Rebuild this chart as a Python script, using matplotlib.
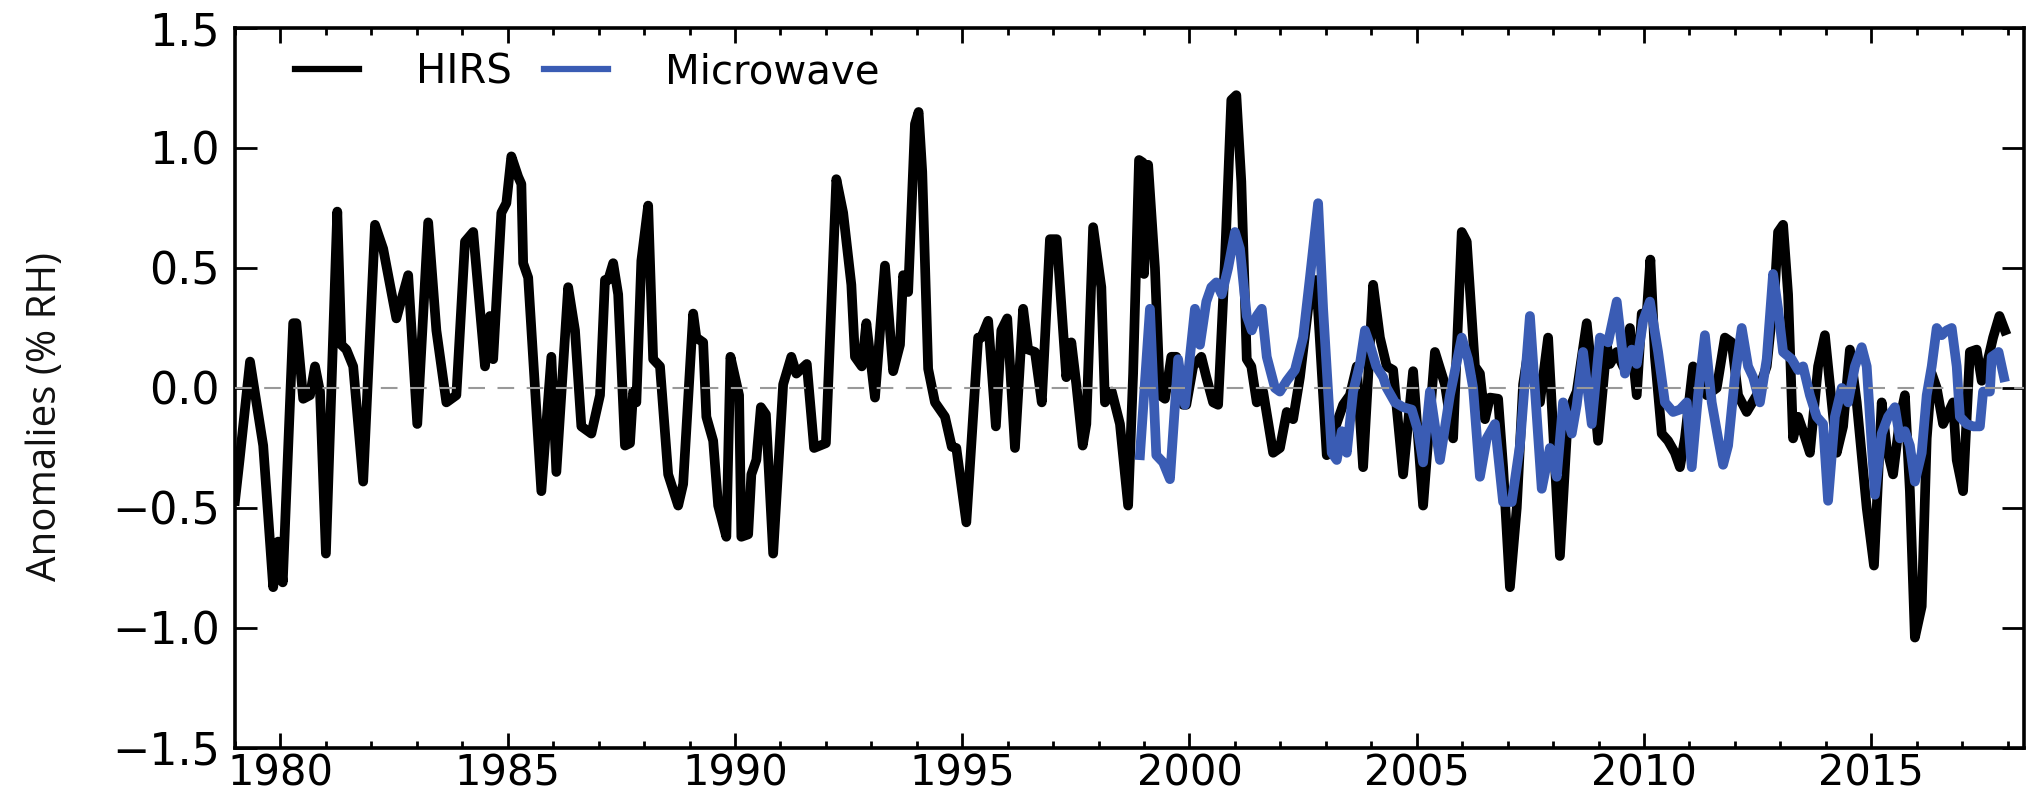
import matplotlib
matplotlib.use("Agg")
import matplotlib.pyplot as plt
from matplotlib.ticker import MultipleLocator

# HIRS anomalies (% RH), turning points
hirs_year = [1979.00, 1979.10, 1979.33, 1979.62, 1979.84, 1979.95, 1980.05, 1980.28, 1980.35, 1980.50,
             1980.65, 1980.76, 1980.87, 1981.00, 1981.25, 1981.34, 1981.45, 1981.60, 1981.82, 1982.08,
             1982.26, 1982.55, 1982.81, 1983.01, 1983.25, 1983.43, 1983.65, 1983.87, 1984.06, 1984.24,
             1984.50, 1984.61, 1984.68, 1984.86, 1984.97, 1985.08, 1985.23, 1985.30, 1985.34, 1985.45,
             1985.74, 1985.96, 1986.07, 1986.33, 1986.48, 1986.62, 1986.84, 1987.03, 1987.14, 1987.21,
             1987.32, 1987.43, 1987.58, 1987.69, 1987.76, 1987.83, 1987.94, 1988.09, 1988.20, 1988.35,
             1988.53, 1988.75, 1988.86, 1989.08, 1989.15, 1989.30, 1989.37, 1989.52, 1989.63, 1989.81,
             1989.90, 1990.09, 1990.14, 1990.29, 1990.36, 1990.47, 1990.57, 1990.68, 1990.84, 1991.06,
             1991.24, 1991.35, 1991.58, 1991.74, 1992.00, 1992.23, 1992.38, 1992.56, 1992.64, 1992.79,
             1992.89, 1993.08, 1993.30, 1993.48, 1993.63, 1993.70, 1993.81, 1993.96, 1994.04, 1994.12,
             1994.25, 1994.40, 1994.62, 1994.77, 1994.87, 1995.09, 1995.35, 1995.42, 1995.57, 1995.74,
             1995.86, 1995.99, 1996.16, 1996.34, 1996.45, 1996.60, 1996.75, 1996.93, 1997.08, 1997.29,
             1997.40, 1997.51, 1997.65, 1997.73, 1997.88, 1998.06, 1998.14, 1998.29, 1998.47, 1998.65,
             1998.76, 1998.89, 1998.97, 1999.00, 1999.09, 1999.24, 1999.35, 1999.46, 1999.60, 1999.71,
             1999.86, 1999.93, 2000.08, 2000.26, 2000.37, 2000.52, 2000.63, 2000.78, 2000.92, 2001.03,
             2001.14, 2001.26, 2001.36, 2001.48, 2001.62, 2001.84, 2001.99, 2002.14, 2002.28, 2002.43,
             2002.61, 2002.79, 2003.02, 2003.16, 2003.38, 2003.53, 2003.68, 2003.82, 2003.93, 2004.04,
             2004.19, 2004.34, 2004.48, 2004.70, 2004.92, 2005.14, 2005.40, 2005.62, 2005.80, 2005.99,
             2006.10, 2006.28, 2006.39, 2006.50, 2006.61, 2006.79, 2006.90, 2007.05, 2007.20, 2007.34,
             2007.45, 2007.71, 2007.89, 2008.15, 2008.33, 2008.52, 2008.74, 2008.88, 2008.99, 2009.18,
             2009.25, 2009.40, 2009.54, 2009.69, 2009.84, 2009.95, 2010.06, 2010.14, 2010.24, 2010.39,
             2010.53, 2010.68, 2010.79, 2010.90, 2011.08, 2011.23, 2011.38, 2011.60, 2011.78, 2011.93,
             2012.07, 2012.26, 2012.48, 2012.70, 2012.88, 2012.95, 2013.06, 2013.17, 2013.28, 2013.39,
             2013.50, 2013.65, 2013.83, 2013.98, 2014.13, 2014.24, 2014.38, 2014.53, 2014.68, 2014.90,
             2015.06, 2015.23, 2015.34, 2015.48, 2015.63, 2015.74, 2015.85, 2015.96, 2016.11, 2016.22,
             2016.33, 2016.44, 2016.58, 2016.80, 2016.88, 2017.02, 2017.17, 2017.32, 2017.43, 2017.57,
             2017.68, 2017.82, 2017.94]
hirs_val = [-0.47, -0.30, 0.11, -0.24, -0.83, -0.64, -0.81, 0.27, 0.27, -0.045,
            -0.03, 0.09, -0.015, -0.69, 0.735, 0.18, 0.16, 0.09, -0.39, 0.68,
            0.58, 0.29, 0.47, -0.15, 0.69, 0.24, -0.06, -0.03, 0.61, 0.65,
            0.09, 0.30, 0.12, 0.73, 0.77, 0.965, 0.88, 0.85, 0.52, 0.46,
            -0.43, 0.13, -0.35, 0.42, 0.24, -0.16, -0.19, -0.03, 0.45, 0.45,
            0.52, 0.39, -0.24, -0.23, -0.015, -0.06, 0.53, 0.76, 0.12, 0.09,
            -0.36, -0.49, -0.40, 0.31, 0.21, 0.19, -0.12, -0.22, -0.49, -0.62,
            0.13, -0.03, -0.62, -0.61, -0.36, -0.30, -0.08, -0.11, -0.69, 0.015,
            0.13, 0.06, 0.10, -0.25, -0.23, 0.87, 0.73, 0.43, 0.13, 0.09,
            0.27, -0.04, 0.51, 0.07, 0.18, 0.47, 0.40, 1.10, 1.15, 0.90,
            0.08, -0.06, -0.12, -0.245, -0.25, -0.56, 0.21, 0.21, 0.28, -0.16,
            0.24, 0.29, -0.25, 0.33, 0.16, 0.15, -0.06, 0.62, 0.62, 0.045,
            0.19, 0.015, -0.24, -0.15, 0.67, 0.42, -0.06, -0.015, -0.15, -0.49,
            0.06, 0.95, 0.94, 0.475, 0.93, 0.50, -0.03, -0.045, 0.13, 0.13,
            -0.07, -0.07, 0.09, 0.13, 0.045, -0.06, -0.07, 0.53, 1.20, 1.22,
            0.86, 0.12, 0.09, -0.06, -0.015, -0.27, -0.25, -0.10, -0.13, 0.045,
            0.33, 0.45, -0.28, -0.19, -0.07, -0.03, 0.09, -0.33, 0.045, 0.43,
            0.21, 0.09, 0.075, -0.36, 0.07, -0.49, 0.15, 0.015, -0.21, 0.65,
            0.61, 0.09, 0.06, -0.13, -0.04, -0.045, -0.33, -0.83, -0.50, 0.015,
            0.15, -0.06, 0.21, -0.70, -0.10, -0.015, 0.27, 0.015, -0.22, 0.18,
            0.10, 0.15, 0.09, 0.25, -0.03, 0.31, 0.31, 0.535, 0.13, -0.19,
            -0.22, -0.27, -0.33, -0.21, 0.09, 0.03, -0.03, 0.0, 0.21, 0.19,
            -0.03, -0.10, -0.03, 0.09, 0.42, 0.65, 0.68, 0.39, -0.21, -0.12,
            -0.18, -0.27, 0.09, 0.22, -0.06, -0.27, -0.16, 0.16, -0.06, -0.50,
            -0.74, -0.06, -0.25, -0.36, -0.13, -0.03, -0.43, -1.04, -0.91, -0.21,
            0.06, 0.0, -0.15, -0.06, -0.30, -0.43, 0.15, 0.16, 0.03, 0.12,
            0.21, 0.30, 0.24]

# Microwave anomalies (% RH)
mw_year = [1998.91, 1999.13, 1999.27, 1999.42, 1999.57, 1999.75, 1999.90, 2000.12, 2000.23, 2000.37,
           2000.48, 2000.59, 2000.71, 2000.85, 2001.00, 2001.11, 2001.26, 2001.37, 2001.48, 2001.59,
           2001.70, 2001.88, 2001.99, 2002.14, 2002.32, 2002.50, 2002.65, 2002.83, 2002.94, 2003.13,
           2003.24, 2003.35, 2003.46, 2003.60, 2003.75, 2003.86, 2003.97, 2004.11, 2004.26, 2004.34,
           2004.52, 2004.70, 2004.89, 2005.03, 2005.14, 2005.29, 2005.51, 2005.73, 2005.99, 2006.13,
           2006.24, 2006.39, 2006.54, 2006.72, 2006.90, 2007.09, 2007.27, 2007.49, 2007.75, 2007.93,
           2008.08, 2008.22, 2008.41, 2008.52, 2008.66, 2008.85, 2009.03, 2009.21, 2009.40, 2009.58,
           2009.73, 2009.84, 2009.98, 2010.13, 2010.31, 2010.46, 2010.64, 2010.79, 2010.94, 2011.05,
           2011.19, 2011.34, 2011.49, 2011.63, 2011.74, 2011.85, 2012.00, 2012.15, 2012.29, 2012.40,
           2012.55, 2012.70, 2012.84, 2012.95, 2013.06, 2013.25, 2013.39, 2013.50, 2013.65, 2013.80,
           2013.94, 2014.05, 2014.20, 2014.35, 2014.49, 2014.64, 2014.79, 2014.90, 2015.08, 2015.23,
           2015.37, 2015.52, 2015.63, 2015.74, 2015.85, 2015.96, 2016.11, 2016.22, 2016.33, 2016.44,
           2016.55, 2016.66, 2016.77, 2016.88, 2016.95, 2017.10, 2017.24, 2017.39, 2017.46, 2017.61,
           2017.65, 2017.80, 2017.92]
mw_val = [-0.28, 0.33, -0.28, -0.31, -0.38, 0.12, -0.07, 0.33, 0.18, 0.36,
          0.42, 0.44, 0.39, 0.50, 0.65, 0.58, 0.30, 0.24, 0.30, 0.33,
          0.13, 0.0, -0.015, 0.03, 0.075, 0.21, 0.46, 0.77, 0.33, -0.27,
          -0.30, -0.18, -0.27, -0.015, 0.10, 0.24, 0.18, 0.09, 0.045, 0.0,
          -0.06, -0.08, -0.09, -0.18, -0.31, -0.015, -0.30, -0.03, 0.21, 0.12,
          0.0, -0.37, -0.21, -0.15, -0.475, -0.475, -0.24, 0.30, -0.42, -0.25,
          -0.37, -0.06, -0.19, -0.07, 0.15, -0.15, 0.21, 0.19, 0.36, 0.06,
          0.16, 0.10, 0.28, 0.36, 0.15, -0.06, -0.10, -0.09, -0.06, -0.33,
          -0.03, 0.22, -0.06, -0.21, -0.32, -0.24, 0.045, 0.25, 0.09, 0.045,
          -0.06, 0.12, 0.475, 0.33, 0.15, 0.12, 0.075, 0.09, -0.03, -0.12,
          -0.15, -0.47, -0.12, 0.0, -0.06, 0.09, 0.17, 0.09, -0.445, -0.19,
          -0.12, -0.08, -0.21, -0.18, -0.24, -0.39, -0.27, -0.03, 0.09, 0.25,
          0.22, 0.24, 0.25, 0.09, -0.12, -0.15, -0.16, -0.16, -0.015, -0.015,
          0.13, 0.15, 0.045]

fig = plt.figure(figsize=(20.26, 7.91), dpi=100)
ax = fig.add_axes([0.116, 0.0544, 0.883, 0.9102])

ax.plot(hirs_year, hirs_val, color="black", lw=7, label="HIRS", solid_joinstyle="round")
ax.plot(mw_year, mw_val, color="#3a5cb4", lw=7, label="Microwave", solid_joinstyle="round")
ax.axhline(0, color="#999999", lw=1.5, ls=(0, (8, 6)), zorder=5)

ax.set_xlim(1979, 2018.36)
ax.set_ylim(-1.5, 1.5)
ax.xaxis.set_major_locator(MultipleLocator(5))
ax.xaxis.set_minor_locator(MultipleLocator(1))
ax.yaxis.set_major_locator(MultipleLocator(0.5))

for side in ax.spines.values():
    side.set_linewidth(2.6)
ax.tick_params(which="both", direction="in", top=True, right=True, width=2)
ax.tick_params(axis="y", labelsize=32)
ax.tick_params(axis="x", labelsize=30)
ax.tick_params(axis="x", which="major", length=11, pad=3)
ax.tick_params(axis="x", which="minor", length=5)
ax.tick_params(axis="y", which="major", length=16, pad=11)

ax.set_ylabel("Anomalies (% RH)", fontsize=29, color="#111111", va="center",
              family=["Liberation Sans Narrow", "Open Sans", "DejaVu Sans"])
ax.yaxis.set_label_coords(-0.106, 0.46)

leg = ax.legend(loc="upper left", ncol=2, frameon=False, fontsize=29, handlelength=1.6,
                handletextpad=1.4, columnspacing=0.8, borderaxespad=0.2,
                bbox_to_anchor=(0.02, 1.0))
for handle in leg.get_lines():
    handle.set_linewidth(4.5)

plt.savefig("out.png", dpi=100)
